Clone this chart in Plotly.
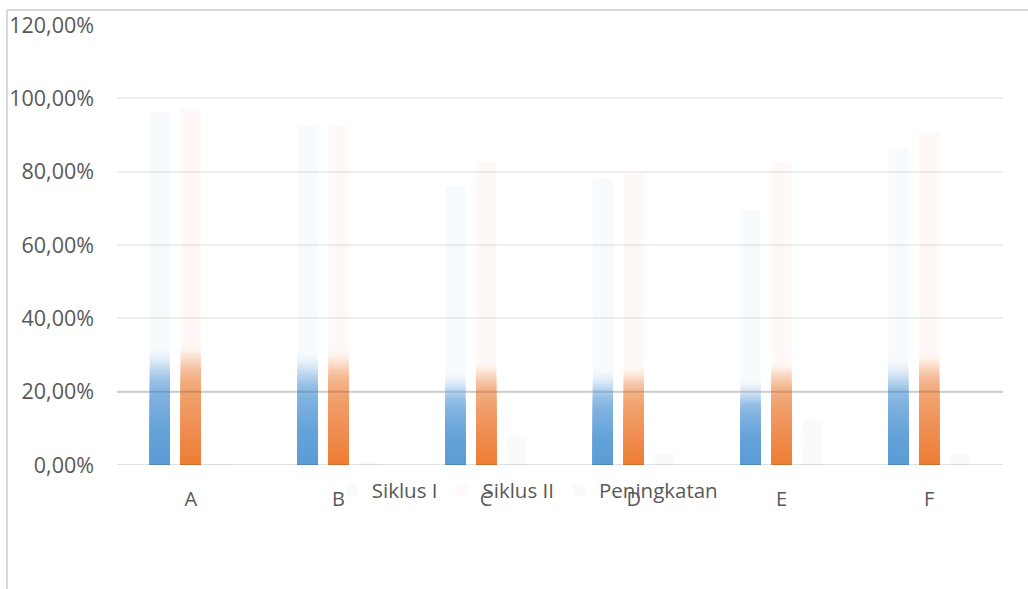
import numpy as np
import plotly.graph_objects as go

categories = ["A", "B", "C", "D", "E", "F"]
siklus_1 = [96.5, 92.3, 75.9, 78.0, 69.8, 86.2]
siklus_2 = [97.1, 92.3, 82.9, 79.5, 82.9, 90.5]
peningkatan = [0.4, 0.6, 7.9, 3.0, 12.3, 3.2]
tick_vals = [0, 20, 40, 60, 80, 100, 120]
tick_text = ["0,00%", "20,00%", "40,00%", "60,00%", "80,00%", "100,00%", "120,00%"]

FONT = "Open Sans"
TXT = "#595959"

# gradient stops (fraction of bar height -> rgb)
blue_stops = [(0.00, (91, 155, 213)), (0.10, (100, 162, 217)), (0.20, (128, 178, 224)),
              (0.24, (150, 192, 230)), (0.27, (186, 213, 239)), (0.30, (224, 236, 248)),
              (0.33, (247, 250, 253))]
orange_stops = [(0.00, (237, 125, 49)), (0.10, (239, 140, 80)), (0.20, (241, 160, 108)),
                (0.24, (243, 174, 128)), (0.27, (245, 190, 155)), (0.30, (250, 218, 198)),
                (0.33, (254, 246, 240))]


def color_at(stops, f):
    fs = [s[0] for s in stops]
    out = []
    for ch in range(3):
        out.append(int(round(np.interp(f, fs, [s[1][ch] for s in stops]))))
    return "rgb(%d,%d,%d)" % tuple(out)


fig = go.Figure()


def add_series(name, values, stops, faint, group):
    # faint full bar (legend entry)
    fig.add_trace(go.Bar(x=categories, y=values, name=name, offsetgroup=group,
                         marker=dict(color=faint, line=dict(width=0)),
                         showlegend=True, hoverinfo="skip"))
    fracs = np.linspace(0.335, 0.01, 45)
    for f in fracs:
        fig.add_trace(go.Bar(x=categories, y=[v * f for v in values], offsetgroup=group,
                             marker=dict(color=color_at(stops, f), line=dict(width=0)),
                             showlegend=False, hoverinfo="skip"))


add_series("Siklus I", siklus_1, blue_stops, "rgba(91,155,213,0.045)", "1")
add_series("Siklus II", siklus_2, orange_stops, "rgba(237,125,49,0.045)", "2")
fig.add_trace(go.Bar(x=categories, y=peningkatan, name="Peningkatan", offsetgroup="3",
                     marker=dict(color="rgba(165,165,165,0.06)", line=dict(width=0)),
                     hoverinfo="skip"))

L, R, T, B = 117, 25, 25, 124
W, H = 1028, 589
pw, ph = W - L - R, H - T - B


def px_x(x):
    return (x - L) / pw


def px_y(y):
    return (H - B - y) / ph


shapes = [
    dict(type="line", xref="paper", yref="y", x0=0, x1=1, y0=20, y1=20,
         line=dict(color="rgba(0,0,0,0.14)", width=2), layer="above"),
    dict(type="line", xref="paper", yref="y", x0=0, x1=1, y0=0, y1=0,
         line=dict(color="rgba(0,0,0,0.12)", width=2), layer="above"),
    dict(type="line", xref="paper", yref="paper", x0=px_x(7), x1=px_x(7), y0=px_y(10), y1=px_y(600),
         line=dict(color="#D9D9D9", width=2)),
    dict(type="line", xref="paper", yref="paper", x0=px_x(7), x1=px_x(1040), y0=px_y(10), y1=px_y(10),
         line=dict(color="#D9D9D9", width=2)),
]

fig.update_layout(
    width=W, height=H,
    margin=dict(l=L, r=R, t=T, b=B, autoexpand=False),
    paper_bgcolor="white", plot_bgcolor="white",
    barmode="group", bargap=0.372, bargroupgap=0.35,
    font=dict(family=FONT, size=20, color=TXT),
    showlegend=True,
    legend=dict(orientation="h", x=0.463, xanchor="center", y=px_y(490), yanchor="middle",
                bgcolor="rgba(0,0,0,0)", font=dict(family=FONT, size=20.5, color=TXT),
                traceorder="normal"),
    shapes=shapes,
    xaxis=dict(showgrid=False, zeroline=False, showline=False, ticks="", automargin=False,
               tickfont=dict(family=FONT, size=20, color=TXT), ticklabelstandoff=20),
    yaxis=dict(range=[0, 120], tickvals=tick_vals, ticktext=tick_text, automargin=False,
               showgrid=True, gridcolor="#EEEEEE", gridwidth=2,
               zeroline=False, showline=False, ticks="",
               tickfont=dict(family=FONT, size=21.5, color=TXT), ticklabelstandoff=22),
)

fig.write_html("out.html")
